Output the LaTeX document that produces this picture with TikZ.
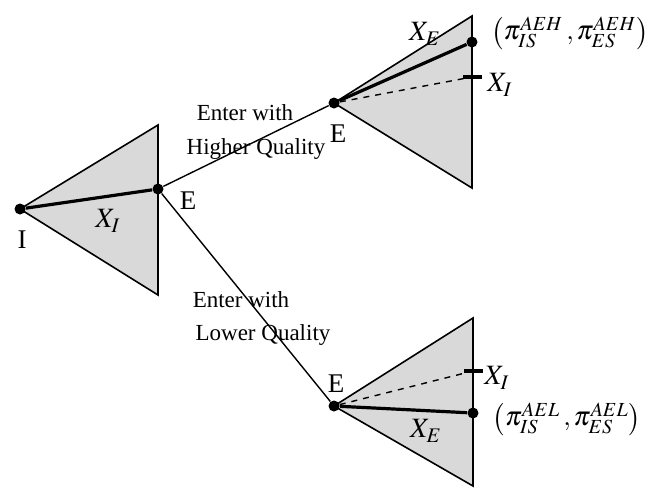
\documentclass[tikz,border=0pt]{standalone}
\usepackage{mathptmx}
\usepackage{fontspec}
\setmainfont{Liberation Serif}
\usetikzlibrary{calc,positioning}

\begin{document}
\begin{tikzpicture}[x=0.5pt,y=-0.5pt,font=\fontsize{11.5}{13}\selectfont]

\tikzset{dot/.style = {shape=circle,fill,inner sep=0pt,minimum size=5.5pt}}
\tikzset{move/.style = {line width=1.6pt}}
\tikzset{branch/.style = {line width=0.7pt}}
\tikzset{side/.style = {draw,line width=0.8pt,fill=gray!30}}
\tikzset{tick/.style = {line width=2.2pt}}
\tikzset{player/.style = {font=\fontsize{13.5}{15}\selectfont}}
\tikzset{strat/.style = {font=\fontsize{14}{16}\selectfont}}
\tikzset{payoff/.style = {font=\fontsize{13.5}{16}\selectfont,inner sep=0.5pt}}

\useasboundingbox (0,0) rectangle (655,489);

% information sets (triangles)
\draw[side] (20,209) -- (158,125) -- (158,295) -- cycle;
\draw[side] (334,103) -- (472,16) -- (472,188) -- cycle;
\draw[side] (334,406) -- (473,318) -- (473,486) -- cycle;

% vertices
\node[dot] (i) at (20,209) {};
\node[dot] (e) at (158,189) {};
\node[dot] (eh) at (334,103) {};
\node[dot] (el) at (334,406) {};
\node[dot] (ph) at (472,42) {};
\node[dot] (pl) at (473,413) {};
\coordinate (xh) at (472,77);
\coordinate (xl) at (473,371);

\node[player] at (22,240) {I};
\node[player] at (188,201) {E};
\node[player] at (338,134) {E};
\node[player] at (336,384) {E};

%edges
\draw[move] (i) -- (e);
\draw[branch] (e) -- (eh);
\draw[branch] (e) -- (el);
\draw[move] (eh) -- (ph);
\draw[move] (el) -- (pl);
\draw[branch,dashed] (eh) -- (xh);
\draw[branch,dashed] (el) -- (xl);
\draw[tick] ($(xh)+(-9,0)$) -- ($(xh)+(10,0)$);
\draw[tick] ($(xl)+(-9,0)$) -- ($(xl)+(10,0)$);

% labels
\node at (245,113) {Enter with};
\node at (256,149) {Higher Quality};
\node at (241,300) {Enter with};
\node at (263,335) {Lower Quality};

\node[strat] at (108,221) {$X_I$};
\node[strat] at (425,34) {$X_E$};
\node[strat] at (426,431) {$X_E$};
\node[strat] at (500,85) {$X_I$};
\node[strat] at (497,378) {$X_I$};

\node[payoff] at (570,33) {$\left(\pi^{AEH}_{IS}\,,\pi^{AEH}_{ES}\right)$};
\node[payoff] at (567,419) {$\left(\pi^{AEL}_{IS}\,,\pi^{AEL}_{ES}\right)$};

\end{tikzpicture}
\end{document}
